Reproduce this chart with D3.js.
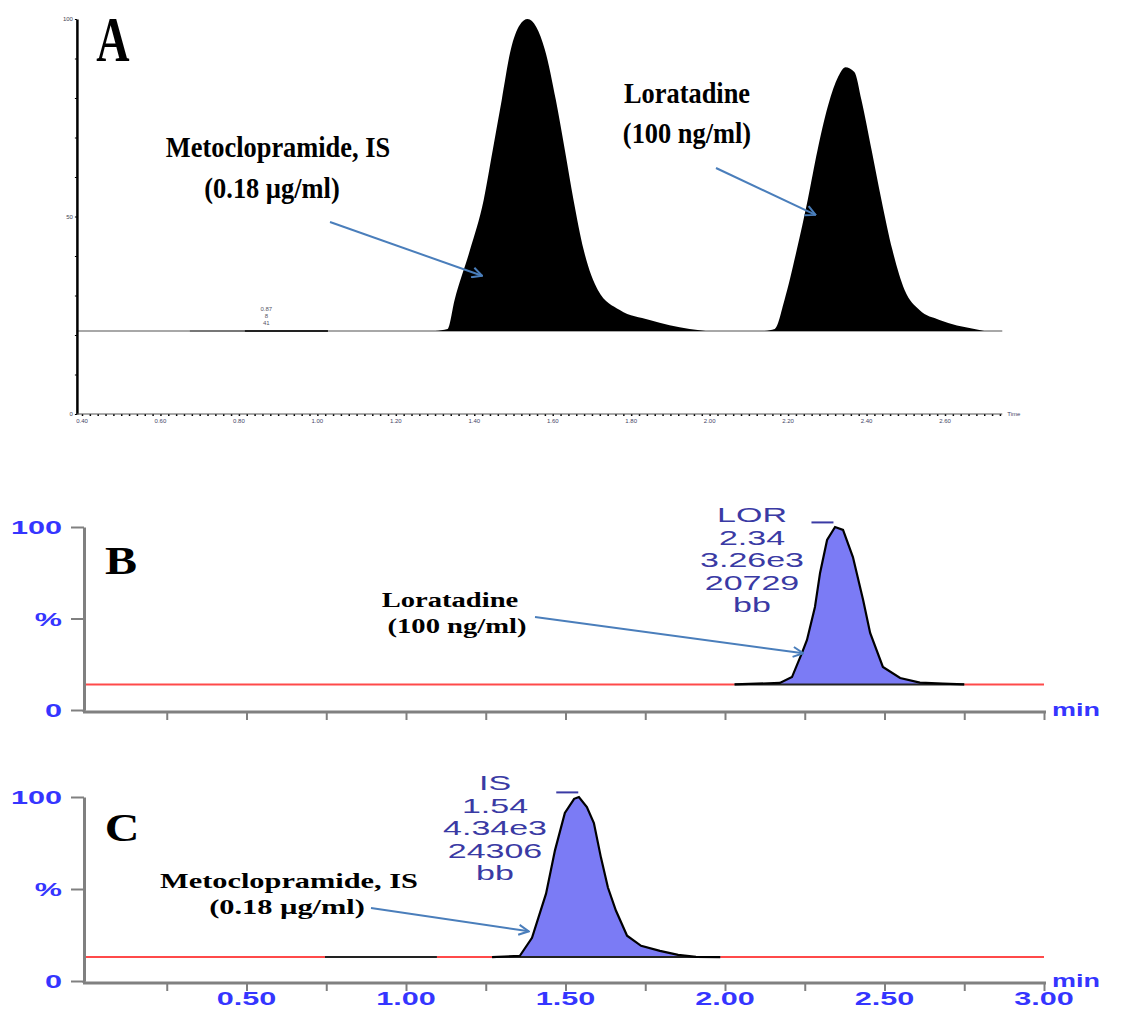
<!DOCTYPE html>
<html>
<head>
<meta charset="utf-8">
<script src="https://cdn.jsdelivr.net/npm/d3@7"></script>
<style>
body { margin: 0; background: #fff; }
</style>
</head>
<body>
<div id="container"></div>
<script>
// ---- panel A: chromatogram, time (min) vs relative intensity (%)
const aBaseline = 21;
const aXLabels = [0.40, 0.60, 0.80, 1.00, 1.20, 1.40, 1.60, 1.80, 2.00, 2.20, 2.40, 2.60];
const aYLabels = [0, 50, 100];
const aMetTime = [1.300, 1.332, 1.350, 1.389, 1.424, 1.447, 1.470, 1.493, 1.516, 1.536, 1.558, 1.580, 1.608, 1.631, 1.653, 1.679, 1.715, 1.771, 1.847, 1.949, 1.990];
const aMetInt  = [21, 21.5, 28.9, 41.5, 54.2, 66.8, 79.5, 92.2, 98.5, 100, 98, 92.2, 79.5, 66.8, 54.2, 41.5, 31.4, 26.3, 23.8, 21.5, 21];
const aLorTime = [2.140, 2.166, 2.191, 2.222, 2.250, 2.275, 2.306, 2.331, 2.346, 2.369, 2.387, 2.413, 2.438, 2.466, 2.497, 2.535, 2.586, 2.675, 2.700];
const aLorInt  = [21, 21.5, 28.9, 41.5, 54.2, 66.8, 79.5, 86, 87.8, 86.6, 79.5, 66.8, 54.2, 41.5, 31.4, 26.3, 23.8, 21.5, 21];
const aSmallPeakTime = 0.87;
const aSmallPeakText = ["0.87", "8", "41"];

// ---- panels B and C: MRM traces
const bcXLabels = [0.50, 1.00, 1.50, 2.00, 2.50, 3.00];
const bcYLabels = [["0", 0], ["%", 50], ["100", 100]];

const bBaseline = 14;
const bTime = [2.030, 2.172, 2.210, 2.241, 2.257, 2.282, 2.298, 2.320, 2.345, 2.370, 2.401, 2.433, 2.455, 2.495, 2.549, 2.611, 2.683, 2.750];
const bInt  = [14, 14.8, 18.0, 31.1, 38.3, 56.3, 74.9, 92.9, 100, 98.4, 83.6, 60.1, 42.1, 23.5, 17.5, 15.0, 14.4, 14];
const bRedFrom = [-0.01, 2.75];
const bRedTo   = [2.03, 3.0];
const bPeakText = ["LOR", "2.34", "3.26e3", "20729", "bb"];

const cBaseline = 13;
const cTime = [1.270, 1.357, 1.395, 1.439, 1.467, 1.498, 1.527, 1.542, 1.567, 1.589, 1.611, 1.633, 1.658, 1.693, 1.737, 1.796, 1.853, 1.909, 1.985];
const cInt  = [13, 13.7, 23.5, 47.5, 71.0, 91.3, 99, 100, 94.5, 85.8, 67.2, 50.8, 38.3, 24.6, 19.1, 16.4, 14.2, 13.1, 13];
const cRedFrom = [-0.01, 1.097, 1.985];
const cRedTo   = [0.746, 1.270, 3.0];
const cBlackFrom = [0.746];
const cBlackTo   = [1.097];
const cPeakText = ["IS", "1.54", "4.34e3", "24306", "bb"];

const W = 1123, H = 1011;
const svg = d3.select("#container").append("svg")
    .attr("width", W).attr("height", H)
    .style("background", "#fff");

svg.append("defs").append("marker")
    .attr("id", "arrow")
    .attr("viewBox", "0 0 12 12")
    .attr("refX", 11).attr("refY", 6)
    .attr("markerWidth", 12).attr("markerHeight", 12)
    .attr("markerUnits", "userSpaceOnUse")
    .attr("orient", "auto")
    .append("path")
    .attr("d", "M1,1 L11,6 L1,11")
    .attr("fill", "none")
    .attr("stroke", "#4a7ebb")
    .attr("stroke-width", 2);

const serif = "'Liberation Serif', 'Times New Roman', serif";
const sans = "'Liberation Sans', Arial, sans-serif";

// stretched text helper (the figure is scaled unevenly)
function label(g, x, y, str, opts) {
    return g.append("text")
        .attr("transform", `translate(${x},${y}) scale(${opts.sx || 1},1)`)
        .attr("text-anchor", opts.anchor || "middle")
        .attr("font-family", opts.font || sans)
        .attr("font-size", opts.size)
        .attr("font-weight", opts.weight || "normal")
        .attr("fill", opts.fill || "#000")
        .text(str);
}

function arrow(g, x1, y1, x2, y2) {
    g.append("line")
        .attr("x1", x1).attr("y1", y1).attr("x2", x2).attr("y2", y2)
        .attr("stroke", "#4a7ebb").attr("stroke-width", 2)
        .attr("marker-end", "url(#arrow)");
}

// ================= Panel A =================
const gA = svg.append("g");
const xA = d3.scaleLinear().domain([0.40, 2.60]).range([82, 945]);
const yA = d3.scaleLinear().domain([0, 100]).range([414, 19]);

// baseline
gA.append("line")
    .attr("x1", xA(0.387)).attr("x2", xA(2.746))
    .attr("y1", yA(aBaseline)).attr("y2", yA(aBaseline))
    .attr("stroke", "#a8a8a8").attr("stroke-width", 2);
gA.append("line")
    .attr("x1", xA(0.675)).attr("x2", xA(0.815))
    .attr("y1", yA(aBaseline)).attr("y2", yA(aBaseline))
    .attr("stroke", "#777").attr("stroke-width", 2);
gA.append("line")
    .attr("x1", xA(0.815)).attr("x2", xA(1.027))
    .attr("y1", yA(aBaseline)).attr("y2", yA(aBaseline))
    .attr("stroke", "#222").attr("stroke-width", 2);

const areaA = d3.area()
    .x(d => xA(d[0]))
    .y0(yA(aBaseline))
    .y1(d => yA(d[1]))
    .curve(d3.curveMonotoneX);

gA.append("path")
    .datum(d3.zip(aMetTime, aMetInt))
    .attr("d", areaA)
    .attr("fill", "#000");
gA.append("path")
    .datum(d3.zip(aLorTime, aLorInt))
    .attr("d", areaA)
    .attr("fill", "#000");

// tiny peak label
aSmallPeakText.forEach((s, i) => {
    label(gA, xA(aSmallPeakTime), yA(aBaseline) - 20 + i * 7, s, { size: 6, fill: "#556" });
});

// y axis
gA.append("g")
    .attr("transform", `translate(${xA(0.387)},0)`)
    .call(d3.axisLeft(yA).tickValues(d3.range(0, 101, 10)).tickSize(2).tickSizeOuter(0).tickFormat(""))
    .call(g => g.select(".domain").attr("stroke", "#000").attr("stroke-width", 2.5))
    .call(g => g.selectAll(".tick line").attr("stroke", "#000"));
aYLabels.forEach(v => {
    label(gA, xA(0.387) - 4, yA(v) + 2, v, { size: 6, anchor: "end", fill: "#445" });
});

// x axis
gA.append("g")
    .attr("transform", `translate(0,${yA(0)})`)
    .call(d3.axisBottom(xA).tickValues(d3.range(0.40, 2.74, 0.02)).tickSize(2).tickSizeOuter(0).tickFormat(""))
    .call(g => g.select(".domain").remove())
    .call(g => g.selectAll(".tick line").attr("stroke", "#000").attr("stroke-width", 1.5));
gA.append("line")
    .attr("x1", xA(0.387)).attr("x2", xA(2.746))
    .attr("y1", yA(0)).attr("y2", yA(0))
    .attr("stroke", "#555").attr("stroke-width", 1);
aXLabels.forEach(v => {
    label(gA, xA(v), yA(0) + 9, v.toFixed(2), { size: 6, fill: "#446" });
});
label(gA, xA(2.746) + 5, yA(0) + 2, "Time", { size: 6, anchor: "start", fill: "#446" });

// annotations
label(gA, 113, 61, "A", { size: 64, font: serif, weight: "bold", sx: 0.72 });
label(gA, 278, 157, "Metoclopramide, IS", { size: 30, font: serif, weight: "bold", sx: 0.88 });
label(gA, 272, 198, "(0.18 µg/ml)", { size: 30, font: serif, weight: "bold", sx: 0.88 });
label(gA, 687, 103, "Loratadine", { size: 30, font: serif, weight: "bold", sx: 0.88 });
label(gA, 687, 143, "(100 ng/ml)", { size: 30, font: serif, weight: "bold", sx: 0.88 });
arrow(gA, 330, 222, xA(1.42), yA(35));
arrow(gA, 716, 168, xA(2.27), yA(50.4));

// ================= Panels B and C =================
const x = d3.scaleLinear().domain([0, 3]).range([87, 1044]);
const axisBlue = "#3535ff";
const textNavy = "#3a3aa4";

function drawTrace(g, y, baseline, times, ints, redFrom, redTo, blackFrom, blackTo, showXLabels) {
    // baseline segments
    redFrom.forEach((f, i) => {
        g.append("line")
            .attr("x1", x(f)).attr("x2", x(redTo[i]))
            .attr("y1", y(baseline)).attr("y2", y(baseline))
            .attr("stroke", "#ff4a4a").attr("stroke-width", 2);
    });
    blackFrom.forEach((f, i) => {
        g.append("line")
            .attr("x1", x(f)).attr("x2", x(blackTo[i]))
            .attr("y1", y(baseline)).attr("y2", y(baseline))
            .attr("stroke", "#222").attr("stroke-width", 2);
    });

    const pts = d3.zip(times, ints);
    g.append("path")
        .datum(pts)
        .attr("d", d3.area().x(d => x(d[0])).y0(y(baseline)).y1(d => y(d[1])))
        .attr("fill", "#7b7bf5");
    g.append("line")
        .attr("x1", x(times[0])).attr("x2", x(times[times.length - 1]))
        .attr("y1", y(baseline)).attr("y2", y(baseline))
        .attr("stroke", "#222").attr("stroke-width", 2);
    g.append("path")
        .datum(pts)
        .attr("d", d3.line().x(d => x(d[0])).y(d => y(d[1])))
        .attr("fill", "none")
        .attr("stroke", "#000").attr("stroke-width", 2.2);

    // y axis
    const yAxisG = g.append("g").attr("transform", `translate(84,0)`);
    yAxisG.call(d3.axisLeft(y).tickValues(d3.range(0, 101, 10)).tickSize(7).tickSizeOuter(0).tickFormat(""));
    yAxisG.call(d3.axisLeft(y).tickValues([0, 50, 100]).tickSize(13).tickSizeOuter(0).tickFormat(""));
    yAxisG.selectAll(".domain").attr("stroke", "#808080").attr("stroke-width", 3);
    yAxisG.selectAll(".tick line").attr("stroke", "#808080").attr("stroke-width", 2);
    g.append("line")
        .attr("x1", 84).attr("x2", 84).attr("y1", y(0)).attr("y2", y(0) + 2)
        .attr("stroke", "#808080").attr("stroke-width", 3);

    bcYLabels.forEach(d => {
        label(g, 62, y(d[1]) + 7, d[0], { size: 18, anchor: "end", sx: 1.7, weight: "bold", fill: axisBlue });
    });

    // x axis
    const yb = y(0) + 2;
    const xAxisG = g.append("g").attr("transform", `translate(0,${yb})`);
    xAxisG.call(d3.axisBottom(x).tickValues(d3.range(0, 3.001, 0.05)).tickSize(4).tickSizeOuter(0).tickFormat(""));
    xAxisG.call(d3.axisBottom(x).tickValues(d3.range(0.25, 3.001, 0.25)).tickSize(8).tickSizeOuter(0).tickFormat(""));
    xAxisG.selectAll(".domain").remove();
    xAxisG.selectAll(".tick line").attr("stroke", "#808080").attr("stroke-width", 2);
    g.append("line")
        .attr("x1", 83).attr("x2", x(3) + 2)
        .attr("y1", yb).attr("y2", yb)
        .attr("stroke", "#808080").attr("stroke-width", 3);

    if (showXLabels) {
        bcXLabels.forEach(v => {
            label(g, x(v), yb + 22, v.toFixed(2), { size: 18, sx: 1.7, weight: "bold", fill: axisBlue });
        });
    }
    label(g, x(3) + 8, yb + 4, "min", { size: 18, anchor: "start", sx: 1.5, weight: "bold", fill: axisBlue });
}

function peakText(g, y, tPeak, cx, top, lines) {
    lines.forEach((s, i) => {
        label(g, cx, top + i * 22.5, s, { size: 20, sx: 1.7, fill: textNavy });
    });
    g.append("line")
        .attr("x1", x(tPeak) - 22).attr("x2", x(tPeak))
        .attr("y1", y(102.5)).attr("y2", y(102.5))
        .attr("stroke", textNavy).attr("stroke-width", 2);
}

// ---- B
const gB = svg.append("g");
const yB = d3.scaleLinear().domain([0, 100]).range([710, 527]);
drawTrace(gB, yB, bBaseline, bTime, bInt, bRedFrom, bRedTo, [], [], false);
peakText(gB, yB, 2.34, 752, 522, bPeakText);
label(gB, 121, 574, "B", { size: 40, font: serif, weight: "bold", sx: 1.2 });
label(gB, 450, 607, "Loratadine", { size: 22, font: serif, weight: "bold", sx: 1.3 });
label(gB, 457, 633, "(100 ng/ml)", { size: 22, font: serif, weight: "bold", sx: 1.3 });
arrow(gB, 535, 617, x(2.245), yB(31));

// ---- C
const gC = svg.append("g");
const yC = d3.scaleLinear().domain([0, 100]).range([981, 797]);
drawTrace(gC, yC, cBaseline, cTime, cInt, cRedFrom, cRedTo, cBlackFrom, cBlackTo, true);
peakText(gC, yC, 1.54, 495, 790, cPeakText);
label(gC, 122, 841, "C", { size: 40, font: serif, weight: "bold", sx: 1.2 });
label(gC, 289, 888, "Metoclopramide, IS", { size: 22, font: serif, weight: "bold", sx: 1.38 });
label(gC, 287, 914, "(0.18 µg/ml)", { size: 22, font: serif, weight: "bold", sx: 1.38 });
arrow(gC, 371, 908, x(1.385), yC(27));
</script>
</body>
</html>
